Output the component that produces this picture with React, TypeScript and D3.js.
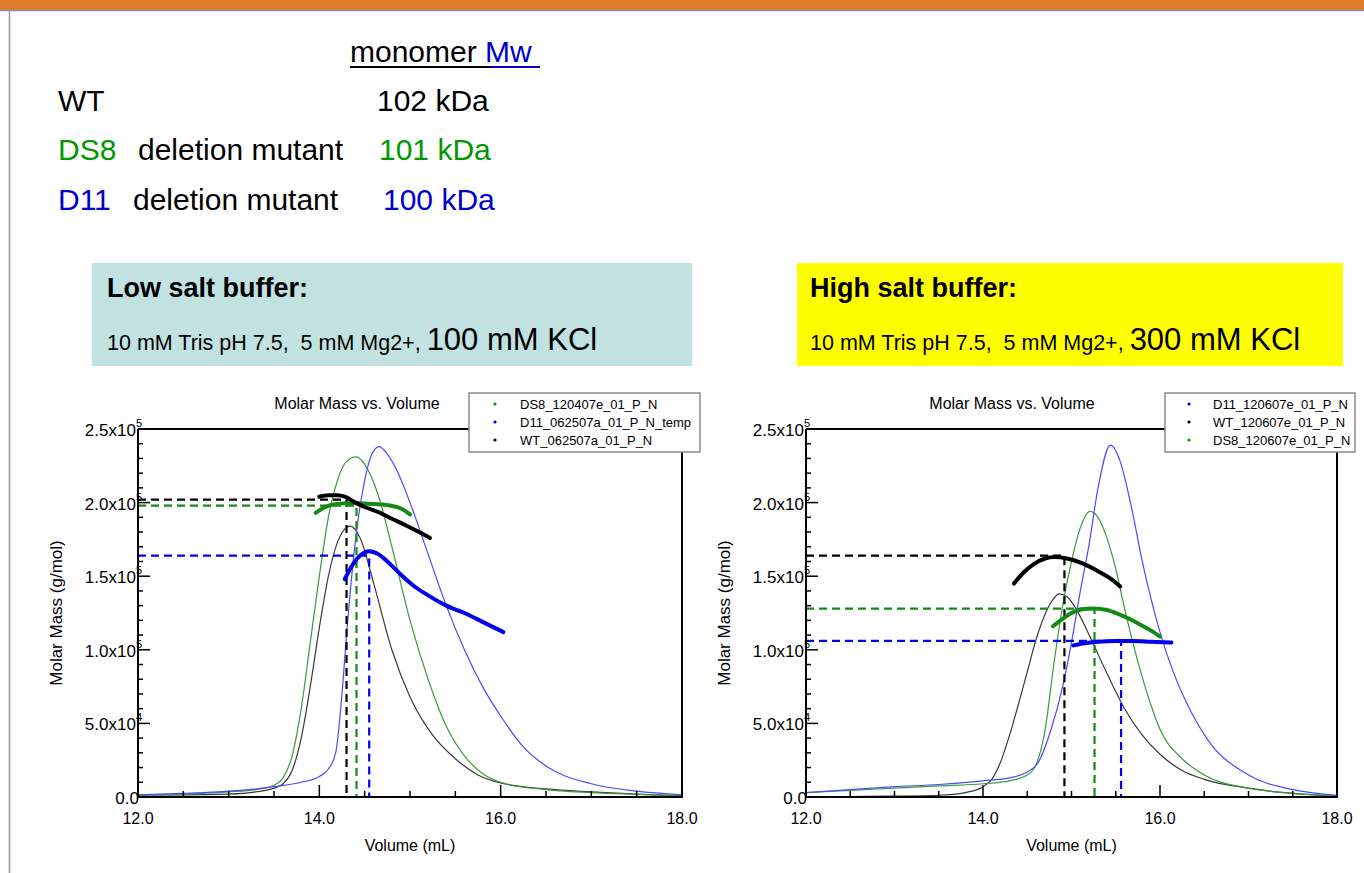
import * as d3 from 'd3';

type Pt = [number, number];

// ---- low salt buffer (100 mM KCl) ----
const lowWtConc: Pt[] = [
  [12.0, 1500], [12.5, 1500], [13.0, 2000], [13.3, 3500], [13.5, 6000], [13.6, 9000],
  [13.7, 18000], [13.8, 40000], [13.9, 75000], [14.0, 115000], [14.1, 150000], [14.2, 173000],
  [14.34, 184000], [14.45, 176000], [14.6, 145000], [14.8, 100000], [15.0, 68000], [15.25, 42000],
  [15.5, 26000], [15.75, 15000], [16.0, 9500], [16.5, 5500], [17.0, 3500], [17.5, 2000], [18.0, 800],
];
const lowDs8Conc: Pt[] = [
  [12.0, 1000], [12.5, 2000], [13.0, 3500], [13.3, 5000], [13.5, 8000], [13.6, 13000],
  [13.7, 28000], [13.8, 60000], [13.9, 105000], [14.0, 150000], [14.1, 190000], [14.2, 215000],
  [14.3, 228000], [14.41, 231000], [14.5, 226000], [14.65, 205000], [14.8, 170000], [15.0, 120000],
  [15.2, 80000], [15.4, 48000], [15.6, 28000], [15.8, 16000], [16.0, 10000], [16.5, 5000],
  [17.0, 3000], [17.5, 1800], [18.0, 800],
];
const lowD11Conc: Pt[] = [
  [12.0, 1500], [12.5, 2500], [13.0, 4000], [13.5, 7000], [13.8, 10000], [14.0, 14000],
  [14.1, 19000], [14.18, 30000], [14.25, 70000], [14.3, 110000], [14.4, 175000], [14.5, 215000],
  [14.58, 233000], [14.66, 238000], [14.75, 233000], [14.87, 220000], [15.0, 200000], [15.2, 165000],
  [15.4, 130000], [15.6, 100000], [15.8, 75000], [16.0, 55000], [16.25, 34000], [16.5, 21000],
  [17.0, 9000], [17.5, 4000], [18.0, 1500],
];
const lowWtMass: Pt[] = [
  [14.0, 204000], [14.1, 205000], [14.2, 205000], [14.28, 204000], [14.4, 200000], [14.5, 197000],
  [14.67, 193000], [14.8, 189000], [14.94, 185000], [15.1, 180000], [15.22, 176000],
];
const lowDs8Mass: Pt[] = [
  [13.96, 193000], [14.05, 196500], [14.14, 198500], [14.3, 199500], [14.45, 199500], [14.6, 199000],
  [14.78, 198000], [14.9, 196000], [15.0, 192000],
];
const lowD11Mass: Pt[] = [
  [14.28, 148000], [14.35, 156000], [14.45, 164000], [14.55, 167000], [14.65, 165000], [14.75, 160000],
  [14.9, 151000], [15.05, 143000], [15.2, 137000], [15.4, 130000], [15.6, 125000], [15.8, 119000],
  [16.03, 112000],
];
// dashed read-off lines: [volume, molar mass]
const lowRefs: Pt[] = [[14.3, 202000], [14.41, 198000], [14.55, 164000]];

// ---- high salt buffer (300 mM KCl) ----
const highWtConc: Pt[] = [
  [12.0, 0], [12.5, 300], [13.0, 600], [13.5, 1200], [13.8, 3000], [14.0, 7000], [14.1, 12000],
  [14.2, 24000], [14.3, 42000], [14.4, 63000], [14.5, 85000], [14.6, 107000], [14.7, 124000],
  [14.8, 135000], [14.86, 138000], [14.95, 136000], [15.05, 128000], [15.2, 110000], [15.4, 84000],
  [15.6, 60000], [15.8, 42000], [16.0, 29000], [16.25, 18000], [16.5, 12000], [17.0, 6000],
  [17.5, 2500], [18.0, 800],
];
const highDs8Conc: Pt[] = [
  [12.0, 3000], [12.5, 4500], [13.0, 6000], [13.5, 7500], [14.0, 9000], [14.3, 11000], [14.5, 15000],
  [14.6, 22000], [14.7, 45000], [14.8, 90000], [14.9, 130000], [15.0, 160000], [15.1, 183000],
  [15.21, 194000], [15.3, 190000], [15.4, 176000], [15.5, 155000], [15.6, 128000], [15.75, 92000],
  [15.9, 62000], [16.0, 46000], [16.25, 26000], [16.5, 15000], [17.0, 6000], [17.5, 2500], [18.0, 800],
];
const highD11Conc: Pt[] = [
  [12.0, 3000], [12.5, 5000], [13.0, 7000], [13.5, 8500], [14.0, 11000], [14.3, 13000], [14.5, 17000],
  [14.62, 23000], [14.77, 46000], [14.9, 75000], [15.0, 105000], [15.1, 140000], [15.2, 172000],
  [15.3, 210000], [15.44, 239000], [15.55, 228000], [15.68, 196000], [15.8, 160000], [16.0, 112000],
  [16.15, 85000], [16.3, 64000], [16.55, 38000], [17.0, 15000], [17.5, 5000], [18.0, 1200],
];
const highWtMass: Pt[] = [
  [14.35, 145000], [14.45, 152000], [14.57, 158000], [14.7, 162000], [14.81, 163000], [14.95, 162000],
  [15.11, 159000], [15.25, 155000], [15.34, 152000], [15.45, 148000], [15.55, 143000],
];
const highDs8Mass: Pt[] = [
  [14.79, 116000], [14.9, 121000], [15.0, 125000], [15.12, 127500], [15.25, 128000], [15.4, 127000],
  [15.58, 123000], [15.75, 118000], [15.9, 113000], [16.0, 109000],
];
const highD11Mass: Pt[] = [
  [15.02, 103000], [15.15, 104500], [15.3, 105500], [15.5, 106000], [15.7, 106000], [15.9, 105500],
  [16.13, 105000],
];
const highRefs: Pt[] = [[14.92, 164000], [15.26, 128000], [15.56, 106000]];

const lowLegend = ['DS8_120407e_01_P_N', 'D11_062507a_01_P_N_temp', 'WT_062507a_01_P_N'];
const highLegend = ['D11_120607e_01_P_N', 'WT_120607e_01_P_N', 'DS8_120607e_01_P_N'];

const xTicks = [12, 14, 16, 18];
const yTicks = [0, 50000, 100000, 150000, 200000, 250000];

const FONT = '"Liberation Sans", Arial, Helvetica, sans-serif';
const BLACK = '#000000';
const GREEN = '#138a13';
const BLUE = '#0000ee';
const THIN = { wt: '#3a3a3a', ds8: '#3c9a3c', d11: '#4a4aff' };

interface PanelProps {
  id: string;
  x0: number;
  x1: number;
  titleX: number;
  conc: { data: Pt[]; color: string }[];
  mass: { data: Pt[]; color: string }[];
  refs: { p: Pt; color: string }[];
  legend: { label: string; color: string }[];
  legendBox: { x: number; w: number; marker: number; text: number };
}

function yLabel(v: number) {
  if (v === 0) return { m: '0.0', e: '' };
  const e = Math.floor(Math.log10(v));
  return { m: (v / Math.pow(10, e)).toFixed(1) + 'x10', e: String(e) };
}

function Panel({ id, x0, x1, titleX, conc, mass, refs, legend, legendBox }: PanelProps) {
  const top = 429;
  const bottom = 797;
  const x = d3.scaleLinear().domain([12, 18]).range([x0, x1]);
  const y = d3.scaleLinear().domain([0, 250000]).range([bottom, top]);
  const line = d3
    .line<Pt>()
    .x((d) => x(d[0]))
    .y((d) => y(d[1]))
    .curve(d3.curveMonotoneX);

  const minorX = d3.range(12, 18.01, 0.5);
  const minorY = d3.range(0, 250001, 10000);
  const ly = 393;
  const lh = 59;

  return (
    <g fontFamily={FONT}>
      <text x={titleX} y={409} textAnchor="middle" fontSize={16}>
        Molar Mass vs. Volume
      </text>

      {conc.map((c, i) => (
        <path key={'c' + i} d={line(c.data) ?? ''} fill="none" stroke={c.color} strokeWidth={1.2} />
      ))}

      {refs.map((r, i) => (
        <path
          key={'r' + i}
          d={`M${x0},${y(r.p[1])}H${x(r.p[0])}V${bottom}`}
          fill="none"
          stroke={r.color}
          strokeWidth={2.2}
          strokeDasharray="8 5"
        />
      ))}

      {mass.map((m, i) => (
        <path
          key={'m' + i}
          d={line(m.data) ?? ''}
          fill="none"
          stroke={m.color}
          strokeWidth={4}
          strokeLinecap="round"
        />
      ))}

      {/* frame */}
      <path d={`M${x0},${top}V${bottom}H${x1}V${top}H${x0}`} fill="none" stroke="#000" strokeWidth={2} />

      {minorX.map((v) => {
        const major = Math.abs(v % 2) < 1e-6;
        return (
          <line key={'xt' + v} x1={x(v)} x2={x(v)} y1={bottom} y2={bottom - (major ? 12 : 6)} stroke="#000" strokeWidth={1.5} />
        );
      })}
      {minorY.map((v) => {
        const major = v % 50000 === 0;
        return (
          <line key={'yt' + v} x1={x0} x2={x0 + (major ? 12 : 5)} y1={y(v)} y2={y(v)} stroke="#000" strokeWidth={1.5} />
        );
      })}

      {xTicks.map((v) => (
        <text key={'xl' + v} x={x(v)} y={824} textAnchor="middle" fontSize={16}>
          {d3.format('.1f')(v)}
        </text>
      ))}
      {yTicks.map((v) => {
        const l = yLabel(v);
        return (
          <text key={'yl' + v} x={x0 + (l.e ? 4 : 1)} y={y(v) + 7} textAnchor="end" fontSize={17}>
            {l.m}
            {l.e && (
              <tspan dy={-9} fontSize={11}>
                {l.e}
              </tspan>
            )}
          </text>
        );
      })}

      <text
        transform={`translate(${x0 - 76},${(top + bottom) / 2}) rotate(-90)`}
        textAnchor="middle"
        fontSize={17}
      >
        Molar Mass (g/mol)
      </text>
      <text x={(x0 + x1) / 2} y={851} textAnchor="middle" fontSize={16}>
        Volume (mL)
      </text>

      <defs>
        <clipPath id={'lg' + id}>
          <rect x={legendBox.x} y={ly} width={legendBox.w} height={lh} />
        </clipPath>
      </defs>
      <rect x={legendBox.x} y={ly} width={legendBox.w} height={lh} fill="#fff" stroke="#8a8a8a" strokeWidth={1.5} />
      <g clipPath={`url(#lg${id})`}>
        {legend.map((l, i) => (
          <g key={'lg' + i}>
            <circle cx={legendBox.marker} cy={ly + 11 + i * 18} r={1.6} fill={l.color} />
            <text x={legendBox.text} y={ly + 16 + i * 18} fontSize={13}>
              {l.label}
            </text>
          </g>
        ))}
      </g>
    </g>
  );
}

export default function App() {
  return (
    <svg
      width={1364}
      height={873}
      style={{ position: 'absolute', left: 0, top: 0, background: '#fff' }}
      fontFamily={FONT}
    >
      <rect x={0} y={0} width={1364} height={10} fill="#e07b2a" />
      <line x1={0} x2={1364} y1={10.5} y2={10.5} stroke="#8890b8" strokeWidth={1.5} />
      <line x1={9.5} x2={9.5} y1={10} y2={873} stroke="#9098b8" strokeWidth={1.5} />

      {/* header */}
      <text x={350} y={62} fontSize={30}>
        <tspan fill="#000">monomer </tspan>
        <tspan fill="#0000cc">Mw</tspan>
      </text>
      <line x1={350} x2={491} y1={67} y2={67} stroke="#000" strokeWidth={2} />
      <line x1={491} x2={540} y1={67} y2={67} stroke="#0000cc" strokeWidth={2} />
      <text x={58} y={111} fontSize={30} fill="#000">WT</text>
      <text x={377} y={111} fontSize={30} fill="#000">102 kDa</text>
      <text x={58} y={160} fontSize={30}>
        <tspan fill="#009900">DS8</tspan>
        <tspan fill="#000" x={138}>deletion mutant</tspan>
        <tspan fill="#009900" x={379}>101 kDa</tspan>
      </text>
      <text x={58} y={210} fontSize={30}>
        <tspan fill="#0000cc">D11</tspan>
        <tspan fill="#000" x={133}>deletion mutant</tspan>
        <tspan fill="#0000cc" x={383}>100 kDa</tspan>
      </text>

      {/* buffer boxes */}
      <rect x={92} y={263} width={600} height={103} fill="#c2e2e2" />
      <text x={107} y={297} fontSize={27} fontWeight="bold">Low salt buffer:</text>
      <text x={107} y={350} fontSize={21.5}>
        10 mM Tris pH 7.5,{'\u00a0\u00a0'}5 mM Mg2+,{' '}
        <tspan fontSize={31}>100 mM KCl</tspan>
      </text>
      <rect x={797} y={263} width={546} height={103} fill="#ffff00" />
      <text x={810} y={297} fontSize={27} fontWeight="bold">High salt buffer:</text>
      <text x={810} y={350} fontSize={21.5}>
        10 mM Tris pH 7.5,{'\u00a0\u00a0'}5 mM Mg2+,{' '}
        <tspan fontSize={31}>300 mM KCl</tspan>
      </text>

      <Panel
        id="low"
        x0={138}
        x1={682}
        titleX={357}
        conc={[
          { data: lowWtConc, color: THIN.wt },
          { data: lowDs8Conc, color: THIN.ds8 },
          { data: lowD11Conc, color: THIN.d11 },
        ]}
        refs={[
          { p: lowRefs[0], color: BLACK },
          { p: lowRefs[1], color: GREEN },
          { p: lowRefs[2], color: BLUE },
        ]}
        mass={[
          { data: lowDs8Mass, color: GREEN },
          { data: lowWtMass, color: BLACK },
          { data: lowD11Mass, color: BLUE },
        ]}
        legend={[
          { label: lowLegend[0], color: GREEN },
          { label: lowLegend[1], color: BLUE },
          { label: lowLegend[2], color: BLACK },
        ]}
        legendBox={{ x: 469, w: 231, marker: 495, text: 520 }}
      />
      <Panel
        id="high"
        x0={806}
        x1={1337}
        titleX={1012}
        conc={[
          { data: highWtConc, color: THIN.wt },
          { data: highDs8Conc, color: THIN.ds8 },
          { data: highD11Conc, color: THIN.d11 },
        ]}
        refs={[
          { p: highRefs[0], color: BLACK },
          { p: highRefs[1], color: GREEN },
          { p: highRefs[2], color: BLUE },
        ]}
        mass={[
          { data: highWtMass, color: BLACK },
          { data: highDs8Mass, color: GREEN },
          { data: highD11Mass, color: BLUE },
        ]}
        legend={[
          { label: highLegend[0], color: BLUE },
          { label: highLegend[1], color: BLACK },
          { label: highLegend[2], color: GREEN },
        ]}
        legendBox={{ x: 1165, w: 190, marker: 1189, text: 1213 }}
      />
    </svg>
  );
}
